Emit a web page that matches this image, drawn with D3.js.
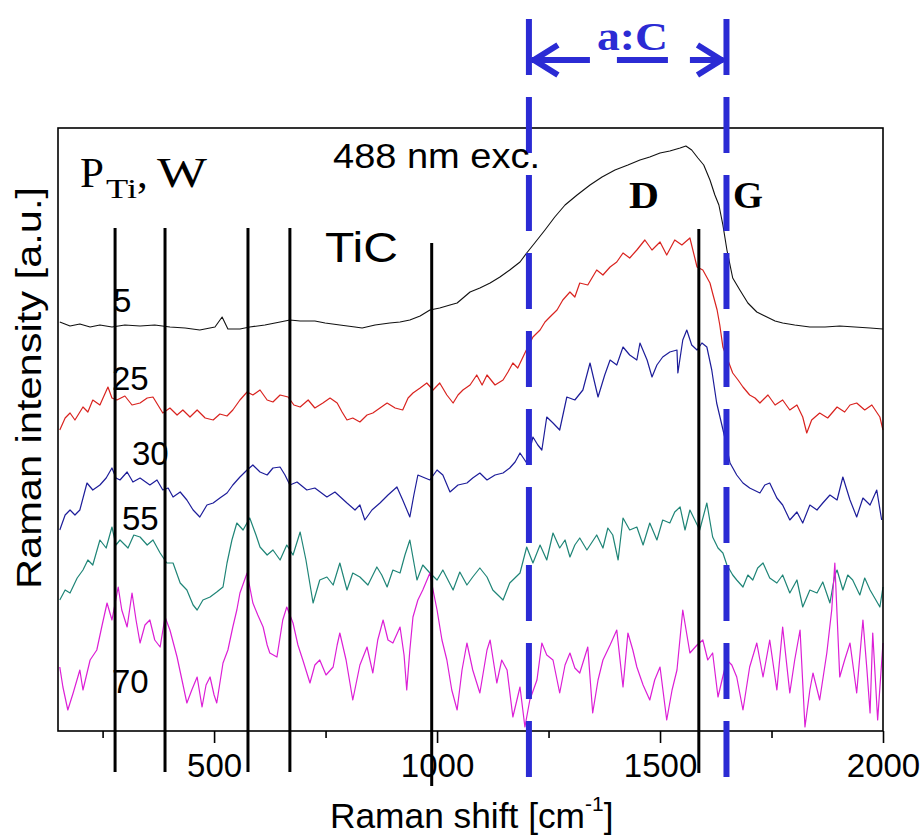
<!DOCTYPE html>
<html>
<head>
<meta charset="utf-8">
<script src="https://cdn.jsdelivr.net/npm/d3@7"></script>
<style>
  html, body { margin: 0; padding: 0; background: #fff; }
  svg { display: block; }
  text { font-family: "Liberation Sans", Arial, sans-serif; }
</style>
</head>
<body>
<svg id="chart" width="924" height="835"></svg>
<script>
// Raman spectra (488 nm excitation) for several Ti target powers, offset vertically.
const powerLabels = ["5", "25", "30", "55", "70"];

const wn5 = [154,177,199,222,244,271,300,334,367,401,435,468,502,518,531,558,580,614,648,670,693,726,749,782,816,832,861,894,917,939,962,984,1006,1029,1045,1074,1096,1119,1141,1163,1186,1201,1219,1242,1264,1287,1314,1343,1370,1399,1428,1455,1477,1500,1522,1545,1558,1571,1585,1598,1612,1623,1632,1641,1650,1663,1679,1697,1717,1735,1758,1775,1802,1836,1870,1903,1937,1971,2000];
const int5 = [409,405,407,404,406,404,406,405,406,404,403,401,404,414,402,402,404,406,409,411,410,410,408,406,404,403,406,408,409,411,415,421,423,426,428,439,443,448,454,461,469,478,488,501,514,526,536,546,554,561,566,571,574,578,580,583,585,581,573,566,551,536,526,506,481,453,441,428,419,415,410,408,406,404,404,405,404,403,402];

const wn25 = [154,166,177,188,206,217,228,244,262,271,282,300,316,334,350,363,374,385,401,417,430,446,462,480,498,513,529,542,558,574,587,603,619,632,648,666,679,693,711,726,744,760,776,787,798,811,827,843,856,872,888,906,923,935,946,962,977,991,1006,1022,1036,1047,1058,1074,1089,1101,1112,1130,1148,1159,1170,1181,1197,1215,1231,1242,1253,1269,1282,1298,1309,1320,1338,1358,1372,1388,1403,1417,1432,1448,1466,1482,1500,1515,1533,1549,1567,1583,1596,1612,1619,1628,1634,1641,1652,1663,1675,1686,1701,1713,1724,1742,1758,1775,1791,1807,1820,1829,1840,1858,1876,1897,1914,1926,1941,1959,1975,1993,2000];
const int25 = [301,313,318,311,324,319,331,326,344,333,331,335,326,328,333,334,326,318,323,316,321,314,321,313,311,317,315,321,331,339,336,341,331,329,336,334,326,324,331,323,328,333,328,319,311,313,309,316,318,323,328,323,321,333,338,343,348,341,348,336,328,336,341,346,356,346,356,346,351,359,368,363,378,394,401,409,414,421,431,439,434,448,446,461,456,464,469,478,473,481,491,481,489,476,491,486,493,464,461,448,436,421,406,384,371,358,351,344,336,333,328,336,326,331,321,326,314,298,311,318,313,324,319,326,328,321,326,314,301];

const wn30 = [154,166,177,188,199,215,228,244,258,271,280,289,305,318,334,356,372,385,397,408,424,439,453,468,484,498,513,529,542,558,574,587,603,619,632,648,659,670,686,708,726,753,771,798,816,827,838,854,872,890,910,923,939,948,957,973,984,1000,1013,1029,1047,1067,1080,1096,1112,1130,1148,1163,1175,1186,1201,1215,1226,1235,1246,1260,1275,1291,1309,1327,1343,1361,1376,1388,1403,1417,1432,1448,1455,1471,1482,1493,1506,1522,1538,1540,1551,1560,1571,1583,1594,1605,1616,1627,1636,1645,1657,1672,1686,1701,1724,1735,1746,1762,1775,1791,1807,1820,1836,1852,1865,1881,1897,1910,1926,1941,1955,1971,1986,1997];
const int30 = [201,216,221,216,221,248,241,246,253,263,253,251,259,249,253,246,251,241,243,234,239,231,221,214,226,228,233,238,246,254,261,266,259,256,263,264,256,246,249,241,243,234,239,228,221,226,211,221,228,236,244,231,214,236,256,253,251,261,256,239,246,248,253,258,251,256,258,263,269,278,268,294,286,281,314,308,301,334,331,341,368,334,356,371,366,384,376,371,388,371,354,366,374,379,381,358,391,401,386,381,388,384,361,328,311,294,268,256,248,243,238,246,248,233,226,211,219,208,226,221,228,236,231,254,231,214,233,226,241,211];

const wn55 = [154,166,177,193,206,217,228,244,258,271,280,289,307,320,334,350,363,379,394,408,424,439,453,462,475,491,506,520,529,540,551,565,580,594,603,619,632,648,663,677,693,706,722,737,753,767,782,798,811,827,845,865,876,888,901,917,928,939,955,968,984,1000,1013,1036,1051,1067,1080,1096,1112,1125,1148,1163,1186,1201,1215,1231,1246,1260,1275,1287,1298,1309,1320,1336,1358,1372,1383,1394,1406,1417,1432,1448,1462,1477,1493,1506,1522,1533,1545,1556,1567,1578,1589,1605,1618,1630,1641,1650,1663,1672,1686,1697,1708,1719,1731,1746,1762,1775,1791,1807,1820,1836,1852,1865,1881,1892,1897,1910,1921,1932,1948,1959,1971,1984,1993,2000];
const int55 = [131,141,138,153,161,171,166,191,183,204,186,191,183,196,194,186,191,178,168,168,148,141,126,121,131,134,139,144,168,191,208,201,213,196,184,176,181,171,186,176,199,171,128,151,154,146,168,141,158,154,146,164,156,144,161,158,176,191,151,166,158,151,161,141,159,146,154,163,154,141,131,148,158,184,168,186,171,198,183,191,174,186,193,181,196,183,203,196,171,213,201,204,186,208,191,211,208,219,224,201,221,211,201,228,194,183,178,166,156,151,144,156,151,163,168,153,148,156,138,151,124,141,138,149,128,156,161,141,156,151,136,153,141,131,124,144];

const wn70 = [154,161,172,184,199,206,222,237,249,260,271,285,293,305,316,325,334,345,356,367,379,390,401,417,428,439,450,462,473,482,491,500,506,520,531,542,551,558,574,587,598,610,619,625,641,654,663,677,688,699,715,726,737,751,767,776,782,796,811,827,843,856,867,879,890,901,917,926,932,939,946,957,968,984,991,1000,1011,1022,1033,1045,1056,1067,1080,1096,1112,1119,1134,1145,1157,1170,1186,1197,1208,1224,1235,1246,1260,1275,1287,1298,1309,1320,1338,1349,1361,1372,1388,1403,1417,1428,1439,1448,1462,1477,1488,1500,1515,1527,1538,1551,1567,1583,1596,1607,1618,1630,1639,1650,1661,1672,1686,1701,1717,1731,1746,1762,1775,1791,1802,1814,1825,1836,1843,1858,1874,1885,1892,1903,1914,1926,1941,1955,1964,1971,1977,1988,2000];
const int70 = [64,44,21,38,61,41,71,81,106,128,111,144,121,104,138,111,88,106,111,91,84,114,101,74,51,28,41,54,24,46,54,36,28,68,81,104,121,138,158,128,116,104,86,78,74,111,124,108,86,71,48,66,71,56,64,86,98,71,31,66,84,58,91,111,91,88,104,76,41,81,114,131,141,158,141,121,91,71,41,21,61,88,61,38,81,91,48,71,61,14,44,4,31,51,88,76,71,38,66,78,63,58,84,18,51,71,86,101,44,98,81,64,46,31,51,64,11,41,61,121,78,86,91,71,78,34,51,71,66,54,21,64,88,54,91,41,104,38,71,101,4,41,58,31,78,121,168,54,71,88,38,111,61,18,98,11,88];

const seriesList = [
  { label: powerLabels[0], wn: wn5,  val: int5,  color: "#111111", width: 1.1 },
  { label: powerLabels[1], wn: wn25, val: int25, color: "#d9231f", width: 1.2 },
  { label: powerLabels[2], wn: wn30, val: int30, color: "#1d1d9a", width: 1.2 },
  { label: powerLabels[3], wn: wn55, val: int55, color: "#1f8577", width: 1.2 },
  { label: powerLabels[4], wn: wn70, val: int70, color: "#dc1fd6", width: 1.2 }
];

// Reference line positions (cm^-1)
const ticLines = [278, 390, 576, 670];
const ticLineLong = 988;
const gLine = 1587;
const carbonBand = [1206, 1649];

const majorTicks = [500, 1000, 1500, 2000];
const minorTicks = [250, 750, 1250, 1750];

const svg = d3.select("#chart");
const plotL = 58, plotR = 883, plotT = 128, plotB = 731;

const x = d3.scaleLinear().domain([150, 2000]).range([plotL, plotR]);
const y = d3.scaleLinear().domain([0, 603]).range([plotB, plotT]);

svg.append("rect").attr("width", 924).attr("height", 835).attr("fill", "#fff");

// spectra
const line = d3.line().x(d => x(d[0])).y(d => y(d[1]));
svg.append("g").selectAll("path")
  .data(seriesList)
  .join("path")
  .attr("d", s => line(s.wn.map((w, i) => [w, s.val[i]])))
  .attr("fill", "none")
  .attr("stroke", s => s.color)
  .attr("stroke-width", s => s.width)
  .attr("stroke-linejoin", "round");

// frame
svg.append("rect")
  .attr("x", plotL).attr("y", plotT)
  .attr("width", plotR - plotL).attr("height", plotB - plotT)
  .attr("fill", "none").attr("stroke", "#000").attr("stroke-width", 1.6);

// x axis ticks
const axisMajor = d3.axisBottom(x).tickValues(majorTicks).tickSize(12).tickFormat(d3.format("d"));
const gAx = svg.append("g").attr("transform", `translate(0,${plotB})`).call(axisMajor);
gAx.select(".domain").remove();
gAx.selectAll(".tick line").attr("stroke", "#000").attr("stroke-width", 1.6);
gAx.selectAll(".tick text")
  .attr("y", 46).attr("dy", 0)
  .attr("fill", "#000")
  .style("font-family", "'Liberation Sans', Arial, sans-serif")
  .style("font-size", "33px");

const axisMinor = d3.axisBottom(x).tickValues(minorTicks).tickSize(7).tickFormat("");
const gAxm = svg.append("g").attr("transform", `translate(0,${plotB})`).call(axisMinor);
gAxm.select(".domain").remove();
gAxm.selectAll(".tick line").attr("stroke", "#000").attr("stroke-width", 1.6);

// TiC reference lines
svg.append("g").selectAll("line")
  .data(ticLines)
  .join("line")
  .attr("x1", d => x(d)).attr("x2", d => x(d))
  .attr("y1", 228).attr("y2", 772)
  .attr("stroke", "#000").attr("stroke-width", 3);
svg.append("line")
  .attr("x1", x(ticLineLong)).attr("x2", x(ticLineLong))
  .attr("y1", 243).attr("y2", 786)
  .attr("stroke", "#000").attr("stroke-width", 3);
svg.append("line")
  .attr("x1", x(gLine)).attr("x2", x(gLine))
  .attr("y1", 229).attr("y2", 773)
  .attr("stroke", "#000").attr("stroke-width", 3);

// amorphous carbon band boundaries
const bandBlue = "#2b2bd4";
svg.append("g").selectAll("line")
  .data(carbonBand)
  .join("line")
  .attr("x1", d => x(d)).attr("x2", d => x(d))
  .attr("y1", 19).attr("y2", 777)
  .attr("stroke", bandBlue).attr("stroke-width", 6)
  .attr("stroke-dasharray", "56,22");

// double arrow spanning the band
const ay = 60;
const ax0 = x(carbonBand[0]) + 3, ax1 = x(carbonBand[1]) - 3;
svg.append("line")
  .attr("x1", ax0).attr("x2", ax1).attr("y1", ay).attr("y2", ay)
  .attr("stroke", bandBlue).attr("stroke-width", 6)
  .attr("stroke-dasharray", "58,27,51,22,60");
svg.append("polyline")
  .attr("points", `${ax0 + 26},${ay - 15} ${ax0 + 2},${ay} ${ax0 + 26},${ay + 15}`)
  .attr("fill", "none").attr("stroke", bandBlue).attr("stroke-width", 6);
svg.append("polyline")
  .attr("points", `${ax1 - 26},${ay - 15} ${ax1 - 2},${ay} ${ax1 - 26},${ay + 15}`)
  .attr("fill", "none").attr("stroke", bandBlue).attr("stroke-width", 6);

const serif = "'Liberation Serif', 'Times New Roman', serif";

svg.append("text")
  .attr("x", 597).attr("y", 50)
  .attr("textLength", 71).attr("lengthAdjust", "spacingAndGlyphs")
  .style("font-family", serif)
  .style("font-weight", "bold").style("font-size", "41px")
  .attr("fill", bandBlue)
  .text("a:C");

// annotations
svg.append("text").attr("x", 333).attr("y", 168)
  .attr("textLength", 207).attr("lengthAdjust", "spacingAndGlyphs")
  .style("font-size", "35px").text("488 nm exc.");

svg.append("text").attr("x", 80).attr("y", 187)
  .style("font-family", serif).style("font-size", "43px").text("P");
svg.append("text").attr("x", 106).attr("y", 198)
  .attr("textLength", 31).attr("lengthAdjust", "spacingAndGlyphs")
  .style("font-family", serif).style("font-size", "27px").text("Ti");
svg.append("text").attr("x", 137).attr("y", 187)
  .style("font-family", serif).style("font-size", "43px").text(",");
svg.append("text").attr("x", 157).attr("y", 187)
  .attr("textLength", 50).attr("lengthAdjust", "spacingAndGlyphs")
  .style("font-family", serif).style("font-size", "43px").text("W");

svg.append("text").attr("x", 325).attr("y", 262)
  .attr("textLength", 73).attr("lengthAdjust", "spacingAndGlyphs")
  .style("font-size", "43px").text("TiC");

svg.append("text").attr("x", 629).attr("y", 208)
  .attr("textLength", 30).attr("lengthAdjust", "spacingAndGlyphs")
  .style("font-family", serif)
  .style("font-weight", "bold").style("font-size", "37px").text("D");
svg.append("text").attr("x", 733).attr("y", 208)
  .attr("textLength", 30).attr("lengthAdjust", "spacingAndGlyphs")
  .style("font-family", serif)
  .style("font-weight", "bold").style("font-size", "37px").text("G");

// power labels for each spectrum
const labelPos = [[113, 312], [112, 390], [132, 465], [122, 530], [112, 693]];
svg.append("g").selectAll("text")
  .data(seriesList)
  .join("text")
  .attr("x", (d, i) => labelPos[i][0])
  .attr("y", (d, i) => labelPos[i][1])
  .style("font-size", "33px")
  .text(d => d.label);

// axis titles
svg.append("text")
  .attr("transform", "translate(41,388) rotate(-90)")
  .attr("text-anchor", "middle")
  .attr("textLength", 402).attr("lengthAdjust", "spacingAndGlyphs")
  .style("font-size", "35px")
  .text("Raman intensity [a.u.]");

const xt = svg.append("text").attr("x", 330).attr("y", 828)
  .style("font-size", "35px");
xt.append("tspan").attr("textLength", 255).attr("lengthAdjust", "spacingAndGlyphs").text("Raman shift [cm");
xt.append("tspan").attr("dy", -17).style("font-size", "21px").text("-1");
xt.append("tspan").attr("dy", 17).text("]");
</script>
</body>
</html>
